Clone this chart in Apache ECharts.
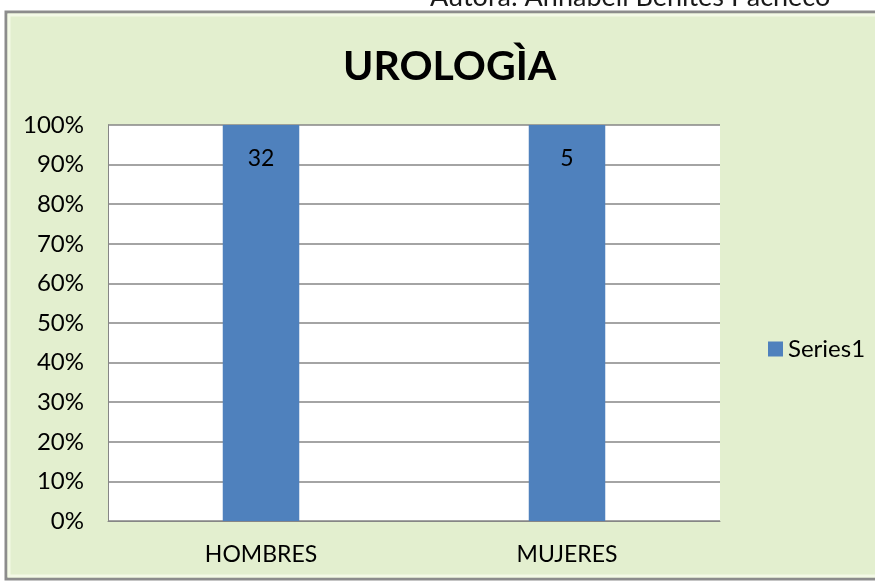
<!DOCTYPE html>
<html>
<head>
<meta charset="utf-8">
<script src="https://cdn.jsdelivr.net/npm/echarts@6/dist/echarts.min.js"></script>
<style>
  html, body { margin: 0; padding: 0; background: #ffffff; }
  #chart { width: 875px; height: 584px; }
</style>
</head>
<body>
<div id="chart"></div>
<script>
// data
const categories = ['HOMBRES', 'MUJERES'];
const seriesName = 'Series1';
const counts = [32, 5];
const yTicks = [0, 10, 20, 30, 40, 50, 60, 70, 80, 90, 100];

// 100% stacked: each value as a share of its category total
const totals = counts.map(v => v);
const percents = counts.map((v, i) => (totals[i] ? v / totals[i] * 100 : 0));

const font = 'Lato, "Open Sans", sans-serif';
const chart = echarts.init(document.getElementById('chart'));

const option = {
  backgroundColor: '#ffffff',
  animation: false,
  graphic: [
    {
      type: 'rect',
      z: -10,
      shape: { x: 6, y: 12, width: 880, height: 567 },
      style: { fill: '#e3efcf', stroke: '#8c8c8c', lineWidth: 3 }
    },
    {
      type: 'rect',
      z: -9,
      shape: { x: 9, y: 15, width: 880, height: 561 },
      style: { fill: 'none', stroke: '#f3f9e6', lineWidth: 3 }
    },
    {
      type: 'text',
      left: 430,
      top: -16,
      style: { text: 'Autora: Annabell Benites Pacheco', font: '27px ' + font, fill: '#1a1a1a' }
    }
  ],
  title: {
    text: 'UROLOGÌA',
    left: 338,
    top: 41,
    textStyle: { fontFamily: font, fontSize: 41, fontWeight: 'bold', color: '#000' }
  },
  legend: {
    data: [{ name: seriesName, icon: 'rect' }],
    left: 763,
    top: 332,
    itemWidth: 15,
    itemHeight: 15,
    itemGap: 5,
    textStyle: { fontFamily: font, fontSize: 24, color: '#000' }
  },
  grid: { left: 108, right: 155, top: 125, bottom: 63, backgroundColor: '#ffffff', show: true, borderWidth: 0 },
  xAxis: {
    type: 'category',
    data: categories,
    axisTick: { show: false },
    axisLine: { lineStyle: { color: '#868686' } },
    axisLabel: { fontFamily: font, fontSize: 23, color: '#000', margin: 22 }
  },
  yAxis: {
    type: 'value',
    min: 0,
    max: 100,
    interval: 10,
    axisLine: { show: true, lineStyle: { color: '#868686' } },
    axisTick: { show: false },
    splitLine: { lineStyle: { color: '#868686', width: 1.5 } },
    axisLabel: {
      fontFamily: font, fontSize: 24, color: '#000', margin: 24,
      formatter: v => (yTicks.indexOf(v) >= 0 ? v + '%' : '')
    }
  },
  series: [
    {
      name: seriesName,
      type: 'bar',
      stack: 'total',
      barWidth: '25%',
      itemStyle: { color: '#4f81bd' },
      label: {
        show: true,
        position: 'insideTop',
        distance: 22,
        fontFamily: font,
        fontSize: 23,
        color: '#000',
        formatter: p => counts[p.dataIndex]
      },
      data: percents
    }
  ]
};

chart.setOption(option);
</script>
</body>
</html>
